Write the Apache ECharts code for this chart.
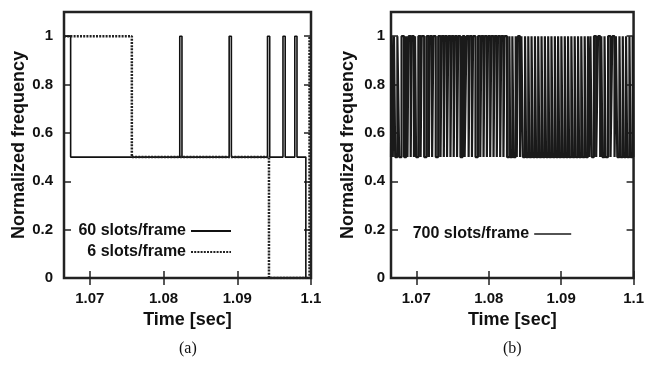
<!DOCTYPE html>
<html><head><meta charset="utf-8">
<script src="https://cdn.jsdelivr.net/npm/echarts@6/dist/echarts.min.js"></script>
<style>html,body{margin:0;padding:0;background:#fff}#c{width:647px;height:367px}</style>
</head><body><div id="c"></div>
<script>
// ---- data ----
const xTicks = [1.07, 1.08, 1.09, 1.1];
const yTicks = [0, 0.2, 0.4, 0.6, 0.8, 1];
const xMin = 1.0665, xMax = 1.1;

// (a) 60 slots/frame : transition times and values (held until next time)
const timeA60 = [1.0665, 1.0674, 1.0822, 1.0825, 1.0889, 1.0892, 1.0941, 1.0944, 1.0962, 1.0965, 1.0978, 1.0981, 1.0993, 1.1];
const valA60  = [1, 0.5, 1, 0.5, 1, 0.5, 1, 0.5, 1, 0.5, 1, 0.5, 0, 0];
// (a) 6 slots/frame
const timeA6 = [1.0665, 1.0757, 1.0943, 1.0998, 1.1];
const valA6  = [1, 0.5, 0, 1, 1];
// (b) 700 slots/frame
const timeB700 = [1.0665,
1.06658,1.06675,1.06691,1.06708,1.06738,1.06763,1.06796,1.06831,1.06861,1.06877,
1.06892,1.06922,1.06937,1.06967,1.06982,1.06996,1.07028,1.07059,1.07074,1.07108,
1.07142,1.07173,1.07188,1.07218,1.07235,1.07268,1.07302,1.07334,1.07349,1.07379,
1.07394,1.07424,1.07441,1.07471,1.07486,1.07516,1.07532,1.07562,1.07578,1.07609,
1.07639,1.07667,1.07692,1.07722,1.07737,1.07768,1.07784,1.07817,1.07851,1.07883,
1.07898,1.07928,1.07943,1.07974,1.07990,1.08020,1.08035,1.08066,1.08081,1.08111,
1.08127,1.08158,1.08173,1.08203,1.08218,1.08252,1.08285,1.08296,1.08326,1.08342,
1.08372,1.08387,1.08402,1.08432,1.08451,1.08471,1.08501,1.08516,1.08546,1.08561,
1.08591,1.08608,1.08638,1.08653,1.08683,1.08699,1.08729,1.08745,1.08775,1.08791,
1.08821,1.08836,1.08866,1.08883,1.08913,1.08928,1.08958,1.08973,1.09003,1.09020,
1.09050,1.09065,1.09095,1.09110,1.09141,1.09157,1.09187,1.09202,1.09233,1.09248,
1.09278,1.09294,1.09325,1.09340,1.09370,1.09388,1.09404,1.09422,1.09453,1.09484,
1.09509,1.09539,1.09554,1.09569,1.09599,1.09614,1.09648,1.09682,1.09706,1.09737,
1.09756,1.09775,1.09805,1.09820,1.09851,1.09866,1.09896,1.09912,1.09943,1.09958,
1.09988,1.09997,
1.1];
const valB700 = [0.5,
1,0.5,1,0.5,1,0.5,1,0.5,1,0.5,1,0.5,1,0.5,1,0.5,1,0.5,1,0.5,
1,0.5,1,0.5,1,0.5,1,0.5,1,0.5,1,0.5,1,0.5,1,0.5,1,0.5,1,0.5,
1,0.5,1,0.5,1,0.5,1,0.5,1,0.5,1,0.5,1,0.5,1,0.5,1,0.5,1,0.5,
1,0.5,1,0.5,1,0.5,1,0.5,1,0.5,1,0.5,1,0.5,1,0.5,1,0.5,1,0.5,
1,0.5,1,0.5,1,0.5,1,0.5,1,0.5,1,0.5,1,0.5,1,0.5,1,0.5,1,0.5,
1,0.5,1,0.5,1,0.5,1,0.5,1,0.5,1,0.5,1,0.5,1,0.5,1,0.5,1,0.5,
1,0.5,1,0.5,1,0.5,1,0.5,1,0.5,1,0.5,1,0.5,1,0.5,1,0.5,1,0.5,
1,0.5,
0.5];

const names = ['60 slots/frame', '6 slots/frame', '700 slots/frame'];
const captions = ['(a)', '(b)'];
const xName = 'Time [sec]';
const yName = 'Normalized frequency';

// ---- chart ----
const FONT = "'Liberation Sans', Arial, sans-serif";
const zip = (t, v) => t.map((x, i) => [x, v[i]]);
const fmt = v => String(Math.round(v * 100) / 100);
const tickStyle = { show: true, inside: true, length: 7, lineStyle: { color: '#222', width: 1.5 } };

function xAxes(gi) {
  return [
    { gridIndex: gi, type: 'value', min: xMin, max: xMax, position: 'bottom',
      axisLine: { show: false }, splitLine: { show: false },
      axisTick: Object.assign({ customValues: xTicks }, tickStyle),
      axisLabel: { customValues: xTicks, formatter: fmt, margin: 13, color: '#111',
        fontFamily: FONT, fontWeight: 'bold', fontSize: 15 },
      name: xName, nameLocation: 'middle', nameGap: 33,
      nameTextStyle: { color: '#111', fontFamily: FONT, fontWeight: 'bold', fontSize: 18 } },
    { gridIndex: gi, type: 'value', min: xMin, max: xMax, position: 'top',
      axisLine: { show: false }, splitLine: { show: false },
      axisTick: Object.assign({ customValues: xTicks }, tickStyle),
      axisLabel: { show: false } }
  ];
}
function yAxes(gi, margin, gap) {
  return [
    { gridIndex: gi, type: 'value', min: 0, max: 1.1, position: 'left',
      axisLine: { show: false }, splitLine: { show: false },
      axisTick: Object.assign({ customValues: yTicks }, tickStyle),
      axisLabel: { customValues: yTicks, formatter: fmt, margin: margin, color: '#111',
        fontFamily: FONT, fontWeight: 'bold', fontSize: 15 },
      name: yName, nameLocation: 'middle', nameGap: gap, nameRotate: 90,
      nameTextStyle: { color: '#111', fontFamily: FONT, fontWeight: 'bold', fontSize: 18 } },
    { gridIndex: gi, type: 'value', min: 0, max: 1.1, position: 'right',
      axisLine: { show: false }, splitLine: { show: false },
      axisTick: Object.assign({ customValues: yTicks }, tickStyle),
      axisLabel: { show: false } }
  ];
}
const legendText = { color: '#111', fontFamily: FONT, fontWeight: 'bold', fontSize: 16 };
function legend(name, right, top, w, lw) {
  const l = { data: [name], right: right, top: top, orient: 'vertical', align: 'right',
    itemWidth: w, itemHeight: 12, selectedMode: false, textStyle: legendText, padding: 0,
    itemStyle: { opacity: 0 } };
  if (lw) l.lineStyle = { width: lw };
  return l;
}

const chart = echarts.init(document.getElementById('c'), null, { renderer: 'canvas' });
chart.setOption({
  animation: false,
  backgroundColor: '#fff',
  grid: [
    { left: 64, top: 12, width: 247, height: 266, show: true, borderColor: '#222', borderWidth: 2.5, backgroundColor: 'transparent' },
    { left: 391, top: 12, width: 244, height: 266, show: true, borderColor: '#222', borderWidth: 2.5, backgroundColor: 'transparent' }
  ],
  xAxis: [...xAxes(0), ...xAxes(1)],
  yAxis: [...yAxes(0, 11, 36), ...yAxes(1, 6, 34)],
  legend: [
    legend(names[0], 647 - 232, 223, 40),
    legend(names[1], 647 - 232, 244, 40),
    legend(names[2], 647 - 572, 226, 37, 1.6)
  ],
  graphic: [
    { type: 'text', left: 179, top: 341, style: { text: captions[0], fill: '#111', font: "16px 'Liberation Serif', 'Times New Roman', serif" } },
    { type: 'text', left: 503, top: 341, style: { text: captions[1], fill: '#111', font: "16px 'Liberation Serif', 'Times New Roman', serif" } }
  ],
  series: [
    { name: names[0], type: 'line', xAxisIndex: 0, yAxisIndex: 0, step: 'end', symbol: 'none',
      data: zip(timeA60, valA60), lineStyle: { color: '#111', width: 1.6 }, itemStyle: { color: '#111' } },
    { name: names[1], type: 'line', xAxisIndex: 0, yAxisIndex: 0, step: 'end', symbol: 'none',
      data: zip(timeA6, valA6), lineStyle: { color: '#222', width: 2.5, type: [2, 1.2] }, itemStyle: { color: '#222' } },
    { name: names[2], type: 'line', xAxisIndex: 2, yAxisIndex: 2, step: 'end', symbol: 'none',
      data: zip(timeB700, valB700), lineStyle: { color: '#1a1a1a', width: 2.2 }, itemStyle: { color: '#1a1a1a' } }
  ]
});
</script>
</body></html>
